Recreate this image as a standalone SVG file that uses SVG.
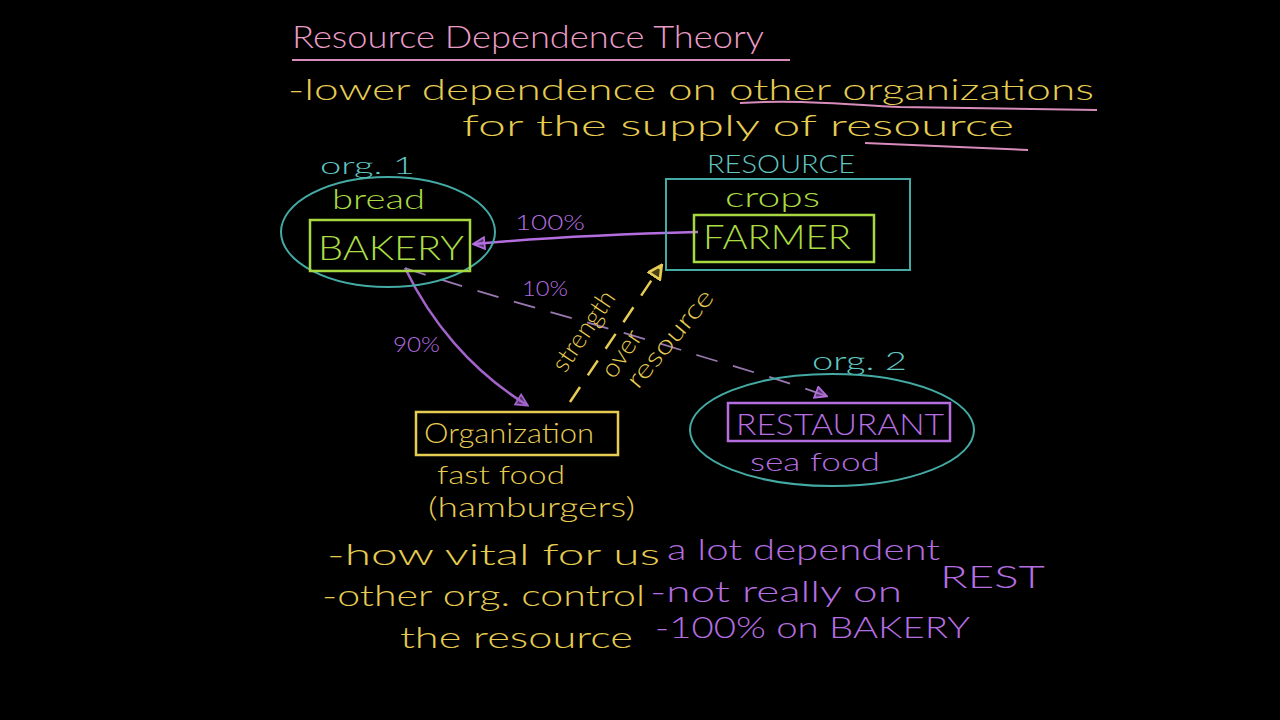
<svg xmlns="http://www.w3.org/2000/svg" width="1280" height="720" viewBox="0 0 1280 720">
<defs>
<style>
text{font-family:"Lato","Liberation Sans",sans-serif;font-weight:300}
.pink{fill:#e89cc4}
.yel{fill:#e6cc52}
.grn{fill:#aadc44}
.cyan{fill:#62c6c0}
.pur{fill:#b46ee0}
.tl{fill:none;stroke:#44aaa4;stroke-width:2}
.gl{fill:none;stroke:#a8d840;stroke-width:2.5}
.pl{fill:none;stroke:#b46ee0;stroke-width:2.5}
.yl{fill:none;stroke:#e6cc52;stroke-width:2.5}
.ul{fill:none;stroke:#d88cbc;stroke-width:2}
</style>
<marker id="ap" viewBox="0 0 12 12" refX="10" refY="6" markerWidth="14" markerHeight="14" markerUnits="userSpaceOnUse" orient="auto">
<path d="M1,1 L11,6 L1,11 Z" fill="#b46ee0" fill-opacity="0.5" stroke="#b46ee0" stroke-width="1.5"/>
</marker>
<marker id="ay" viewBox="0 0 12 12" refX="10" refY="6" markerWidth="16" markerHeight="16" markerUnits="userSpaceOnUse" orient="auto">
<path d="M1,1 L11,6 L1,11 Z" fill="#e6cc52" fill-opacity="0.3" stroke="#e6cc52" stroke-width="2"/>
</marker>
</defs>
<rect width="1280" height="720" fill="#000"/>

<g id="title">
<text x="292" y="48" font-size="32" class="pink" textLength="472" lengthAdjust="spacingAndGlyphs">Resource Dependence Theory</text>
<path class="ul" d="M292,60 L790,60"/>
</g>

<g id="definition">
<text x="288" y="100" font-size="30" class="yel" textLength="806" lengthAdjust="spacingAndGlyphs">-lower dependence on other organizations</text>
<path class="ul" d="M740,103 C800,99 850,105 900,107 L1097,110"/>
<text x="462" y="136" font-size="30" class="yel" textLength="552" lengthAdjust="spacingAndGlyphs">for the supply of resource</text>
<path class="ul" d="M865,143 L1028,150"/>
</g>

<g id="connectors">
<path class="pl" d="M698,232 C620,234 540,238 474,244" marker-end="url(#ap)"/>
<path class="pl" d="M405,268 C430,320 470,370 527,405" marker-end="url(#ap)" stroke-width="1.8" opacity="0.9"/>
<path d="M405,268 C500,300 620,330 700,356 C760,374 800,386 826,396" fill="none" stroke="#9a78b0" stroke-width="1.8" stroke-dasharray="22,16" marker-end="url(#ap)"/>
<path class="yl" d="M570,402 L661,266" stroke-dasharray="18,14" marker-end="url(#ay)"/>
<text x="515" y="230" font-size="22" class="pur" textLength="70" lengthAdjust="spacingAndGlyphs">100%</text>
<text x="522" y="296" font-size="22" class="pur" textLength="46" lengthAdjust="spacingAndGlyphs">10%</text>
<text x="393" y="352" font-size="22" class="pur" textLength="47" lengthAdjust="spacingAndGlyphs">90%</text>
<text font-size="26" class="yel" transform="translate(565,374) rotate(-56)" textLength="92" lengthAdjust="spacingAndGlyphs">strength</text>
<text font-size="26" class="yel" transform="translate(614,380) rotate(-56)" textLength="52" lengthAdjust="spacingAndGlyphs">over</text>
<text font-size="26" class="yel" transform="translate(638,390) rotate(-50)" textLength="120" lengthAdjust="spacingAndGlyphs">resource</text>
</g>

<g id="bakery">
<ellipse class="tl" cx="388" cy="232" rx="107" ry="55"/>
<text x="320" y="174" font-size="24" class="cyan" textLength="95" lengthAdjust="spacingAndGlyphs">org. 1</text>
<text x="332" y="209" font-size="28" class="grn" textLength="93" lengthAdjust="spacingAndGlyphs">bread</text>
<rect class="gl" x="310" y="220" width="160" height="51"/>
<text x="318" y="260" font-size="34" class="grn" textLength="146" lengthAdjust="spacingAndGlyphs">BAKERY</text>
</g>

<g id="farmer">
<text x="707" y="173" font-size="26" class="cyan" textLength="148" lengthAdjust="spacingAndGlyphs">RESOURCE</text>
<rect class="tl" x="666" y="179" width="244" height="91"/>
<text x="725" y="207" font-size="28" class="grn" textLength="95" lengthAdjust="spacingAndGlyphs">crops</text>
<rect class="gl" x="694" y="215" width="180" height="47"/>
<text x="703" y="249" font-size="34" class="grn" textLength="148" lengthAdjust="spacingAndGlyphs">FARMER</text>
</g>

<g id="organization">
<rect class="yl" x="416" y="412" width="202" height="43"/>
<text x="424" y="443" font-size="28" class="yel" textLength="170" lengthAdjust="spacingAndGlyphs">Organization</text>
<text x="437" y="484" font-size="26" class="yel" textLength="128" lengthAdjust="spacingAndGlyphs">fast food</text>
<text x="428" y="517" font-size="28" class="yel" textLength="207" lengthAdjust="spacingAndGlyphs">(hamburgers)</text>
</g>

<g id="restaurant">
<text x="812" y="370" font-size="26" class="cyan" textLength="95" lengthAdjust="spacingAndGlyphs">org. 2</text>
<ellipse class="tl" cx="832" cy="430" rx="142" ry="56"/>
<rect class="pl" x="728" y="403" width="222" height="38"/>
<text x="736" y="435" font-size="30" class="pur" textLength="208" lengthAdjust="spacingAndGlyphs">RESTAURANT</text>
<text x="750" y="471" font-size="26" class="pur" textLength="130" lengthAdjust="spacingAndGlyphs">sea food</text>
</g>

<g id="notes">
<text x="327" y="565" font-size="30" class="yel" textLength="333" lengthAdjust="spacingAndGlyphs">-how vital for us</text>
<text x="322" y="606" font-size="30" class="yel" textLength="323" lengthAdjust="spacingAndGlyphs">-other org. control</text>
<text x="400" y="648" font-size="30" class="yel" textLength="233" lengthAdjust="spacingAndGlyphs">the resource</text>
<text x="667" y="560" font-size="30" class="pur" textLength="273" lengthAdjust="spacingAndGlyphs">a lot dependent</text>
<text x="650" y="602" font-size="30" class="pur" textLength="252" lengthAdjust="spacingAndGlyphs">-not really on</text>
<text x="940" y="588" font-size="32" class="pur" textLength="105" lengthAdjust="spacingAndGlyphs">REST</text>
<text x="655" y="638" font-size="30" class="pur" textLength="315" lengthAdjust="spacingAndGlyphs">-100% on BAKERY</text>
</g>
</svg>
